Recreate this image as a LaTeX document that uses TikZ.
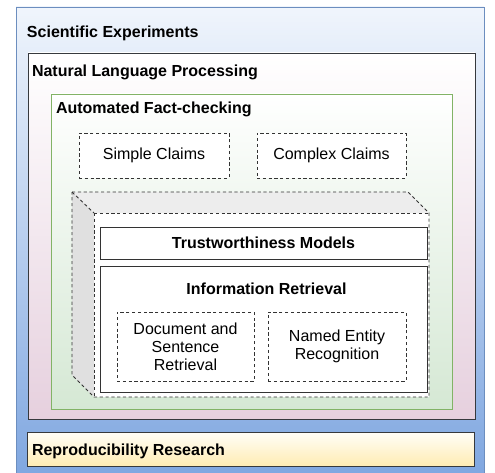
\documentclass[tikz,border=0pt]{standalone}
\usepackage{fontspec}
\setmainfont{Liberation Sans}
\definecolor{outerline}{HTML}{6C8EBF}
\definecolor{outertop}{HTML}{F0F5FC}
\definecolor{outerbot}{HTML}{7EA6E0}
\definecolor{darkline}{HTML}{36393D}
\definecolor{pinkbot}{HTML}{E6D0DE}
\definecolor{greenline}{HTML}{82B366}
\definecolor{greenbot}{HTML}{D5E8D4}
\definecolor{yellowtop}{HTML}{FFFEF8}
\definecolor{yellowbot}{HTML}{FFECB3}
\definecolor{cubetop}{HTML}{EDEDED}
\definecolor{cubeside}{HTML}{E0E0E0}
\definecolor{dashcol}{HTML}{333333}
\begin{document}
\begin{tikzpicture}[x=1pt,y=1pt,
  every node/.style={inner sep=0pt, outer sep=0pt},
  titletext/.style={font=\fontsize{16}{18}\selectfont\bfseries, anchor=base west},
  area/.style={rectangle, anchor=north west, line width=0.9pt},
  dashbox/.style={rectangle, anchor=north west, draw=dashcol, line width=0.9pt,
    dash pattern=on 3.2pt off 2.6pt, fill=white, font=\fontsize{16}{18}\selectfont, align=center},
  solidbox/.style={rectangle, anchor=north west, draw=dashcol, line width=0.9pt, fill=white},
  cubeline/.style={draw=dashcol, line width=0.9pt, dash pattern=on 3.2pt off 2.6pt}
]
\useasboundingbox (0,0) rectangle (495,472);

% outer box
\node[area, draw=outerline, top color=outertop, bottom color=outerbot,
  minimum width=468, minimum height=475] (sci) at (16,465) {};
\node[titletext] (sciT) at (27,434.5) {Scientific Experiments};

% NLP box
\node[area, draw=darkline, top color=white, bottom color=pinkbot,
  minimum width=447, minimum height=366] (nlp) at (28,419) {};
\node[titletext] (nlpT) at (32,395.5) {Natural Language Processing};

% Automated fact-checking
\node[area, draw=greenline, top color=white, bottom color=greenbot,
  minimum width=401, minimum height=315] (afc) at (51,378) {};
\node[titletext] (afcT) at (56,358) {Automated Fact-checking};

% claims
\node[dashbox, minimum width=150, minimum height=45] (simple) at (79,339) {Simple Claims};
\node[dashbox, minimum width=149, minimum height=45] (complex) at (257,339) {Complex Claims};

% cube
\coordinate (btl) at (72,280);
\coordinate (btr) at (408,280);
\coordinate (ftl) at (94,259);
\coordinate (ftr) at (429,259);
\coordinate (fbr) at (429,75);
\coordinate (fbl) at (94,75);
\coordinate (bbl) at (72,97);
\fill[white] (ftl) -- (ftr) -- (fbr) -- (fbl) -- cycle;
\fill[cubetop] (btl) -- (btr) -- (ftr) -- (ftl) -- cycle;
\fill[cubeside] (btl) -- (ftl) -- (fbl) -- (bbl) -- cycle;
\draw[cubeline] (btl) -- (btr) -- (ftr) -- (fbr) -- (fbl) -- (bbl) -- cycle;
\draw[cubeline] (btl) -- (ftl);
\draw[cubeline] (ftl) -- (ftr);
\draw[cubeline] (ftl) -- (fbl);

% trustworthiness
\node[solidbox, minimum width=327, minimum height=32,
  font=\fontsize{16}{18}\selectfont\bfseries] (trust) at (100,245) {Trustworthiness Models};

% information retrieval
\node[solidbox, minimum width=327, minimum height=126] (ir) at (100,206) {};
\node[font=\fontsize{16}{18}\selectfont\bfseries, anchor=base] (irT) at (266.5,177.7) {Information Retrieval};
\node[dashbox, minimum width=137, minimum height=69] (dsr) at (117,160) {Document and\\Sentence\\Retrieval};
\node[dashbox, minimum width=138, minimum height=69] (ner) at (268,160) {Named Entity\\Recognition};

% reproducibility
\node[area, draw=darkline, top color=yellowtop, bottom color=yellowbot,
  minimum width=447, minimum height=34] (repro) at (27,40) {};
\node[titletext] (reproT) at (32,16.3) {Reproducibility Research};
\end{tikzpicture}
\end{document}
